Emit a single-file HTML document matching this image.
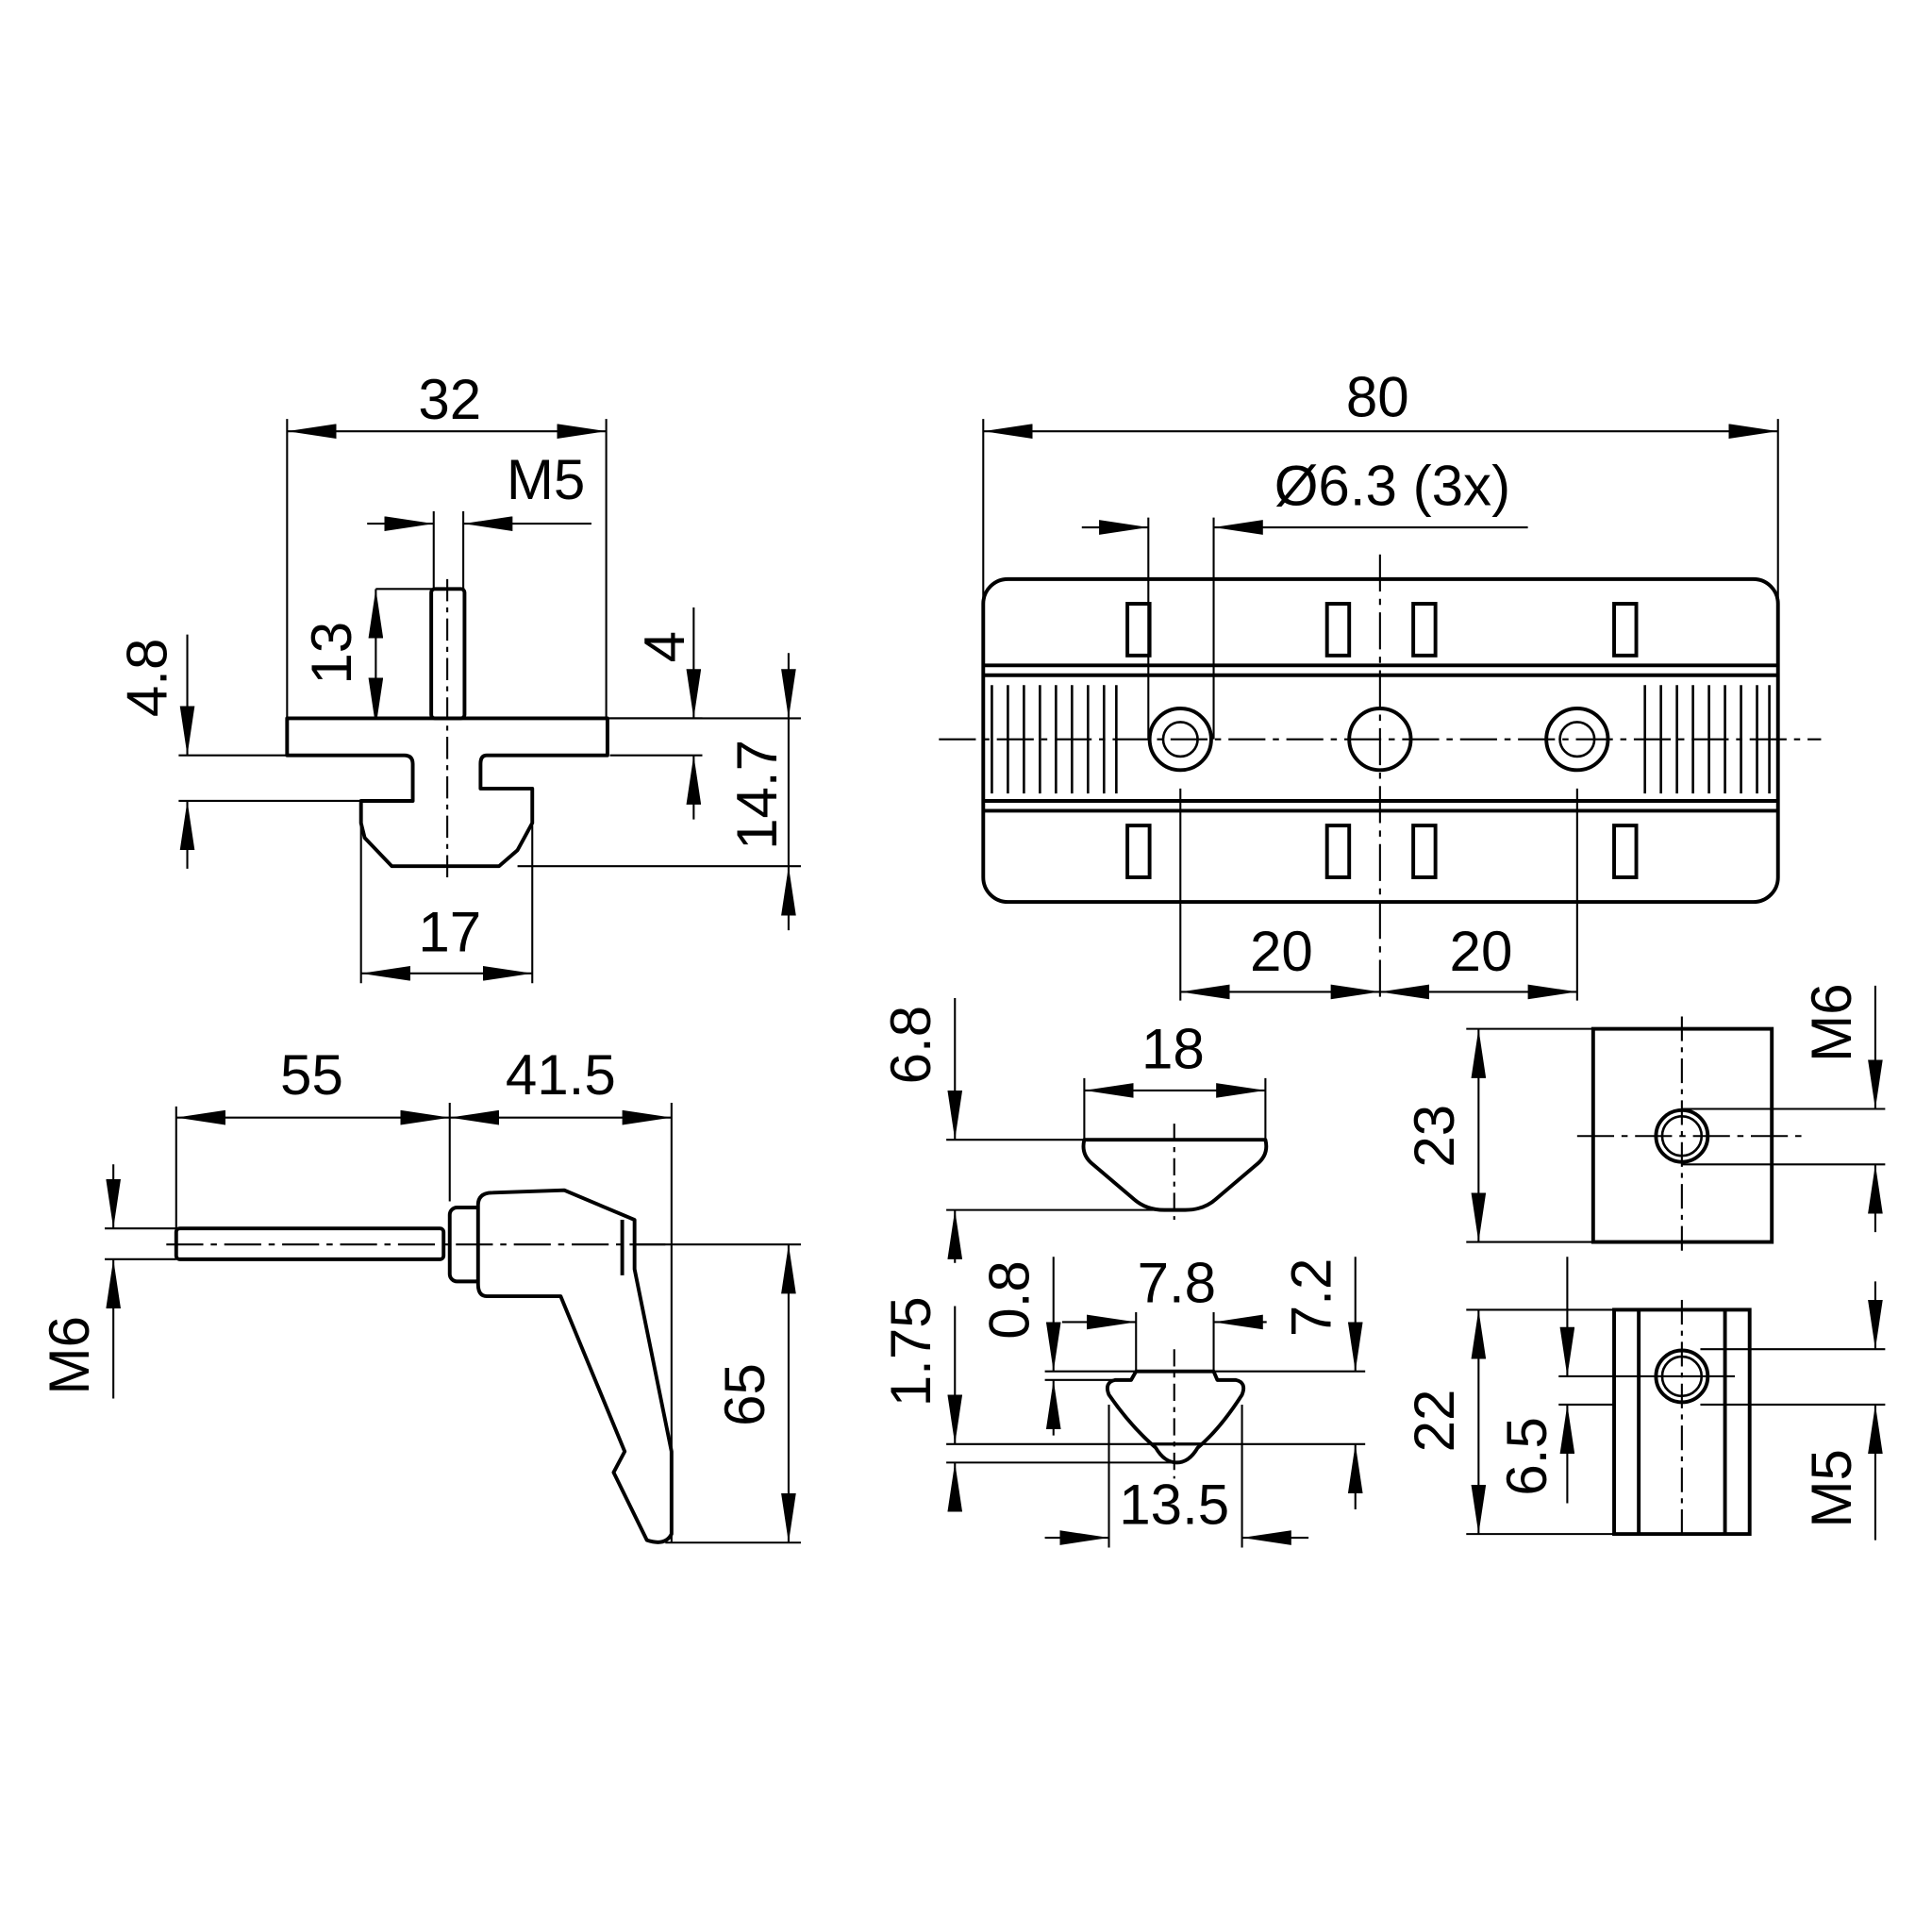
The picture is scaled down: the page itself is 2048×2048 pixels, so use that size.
<!DOCTYPE html>
<html><head><meta charset="utf-8"><style>html,body{margin:0;padding:0;background:#fff}svg{display:block}</style></head>
<body>
<svg width="2048" height="2048" viewBox="0 0 1568 1568" xmlns="http://www.w3.org/2000/svg" font-family="'Liberation Sans', sans-serif" font-size="46">
<defs>
<marker id="a" markerUnits="userSpaceOnUse" markerWidth="40" markerHeight="12" refX="40" refY="6" orient="auto-start-reverse" viewBox="0 0 40 12"><path d="M0,0 L40,6 L0,12 Z" fill="#000"/></marker>
</defs>
<rect width="1568" height="1568" fill="#fff"/>
<g stroke="#000" stroke-width="1.6" fill="none">
<!-- TOP LEFT -->
<line x1="233" y1="340" x2="233" y2="582"/><line x1="492" y1="340" x2="492" y2="582"/>
<line x1="233" y1="350" x2="492" y2="350" marker-start="url(#a)" marker-end="url(#a)"/>
<line x1="352" y1="415" x2="352" y2="478"/><line x1="376" y1="415" x2="376" y2="478"/>
<line x1="298" y1="425" x2="352" y2="425" marker-end="url(#a)"/>
<line x1="480" y1="425" x2="376" y2="425" marker-end="url(#a)"/>
<line x1="305" y1="478" x2="377" y2="478"/>
<line x1="305" y1="478" x2="305" y2="590" marker-start="url(#a)" marker-end="url(#a)"/>
<line x1="145" y1="613" x2="233" y2="613"/><line x1="145" y1="650" x2="293" y2="650"/>
<line x1="152" y1="515" x2="152" y2="613" marker-end="url(#a)"/>
<line x1="152" y1="705" x2="152" y2="650" marker-end="url(#a)"/>
<line x1="495" y1="583" x2="570" y2="583"/><line x1="495" y1="613" x2="570" y2="613"/>
<line x1="563" y1="493" x2="563" y2="583" marker-end="url(#a)"/>
<line x1="563" y1="665" x2="563" y2="613" marker-end="url(#a)"/>
<line x1="493" y1="583" x2="650" y2="583"/><line x1="420" y1="703" x2="650" y2="703"/>
<line x1="640" y1="530" x2="640" y2="583" marker-end="url(#a)"/>
<line x1="640" y1="755" x2="640" y2="703" marker-end="url(#a)"/>
<line x1="640" y1="583" x2="640" y2="703"/>
<line x1="293" y1="670" x2="293" y2="798"/><line x1="432" y1="670" x2="432" y2="798"/>
<line x1="293" y1="790" x2="432" y2="790" marker-start="url(#a)" marker-end="url(#a)"/>
</g>
<g stroke="#000" stroke-width="3" fill="#fff" stroke-linejoin="round">
<path d="M233 583 L493 583 L493 613 L395 613 Q390 613 390 620 L390 640 L432 640 L432 668 L420 690 L405 703 L318 703 L296 680 L293 668 L293 650 L335 650 L335 620 Q335 613 328 613 L233 613 Z" />
<rect x="350" y="478" width="27" height="105" rx="3"/>
</g>
<line x1="363" y1="470" x2="363" y2="715" stroke="#000" stroke-width="1.6" stroke-dasharray="18,5,4,5"/>
<!-- BOTTOM LEFT -->
<g stroke="#000" stroke-width="1.6" fill="none">
<line x1="143" y1="898" x2="143" y2="1020"/><line x1="365" y1="895" x2="365" y2="975"/><line x1="545" y1="895" x2="545" y2="1252"/>
<line x1="143" y1="907" x2="365" y2="907" marker-start="url(#a)" marker-end="url(#a)"/>
<line x1="365" y1="907" x2="545" y2="907" marker-start="url(#a)" marker-end="url(#a)"/>
<line x1="85" y1="997" x2="143" y2="997"/><line x1="85" y1="1022" x2="143" y2="1022"/>
<line x1="92" y1="945" x2="92" y2="997" marker-end="url(#a)"/>
<line x1="92" y1="1135" x2="92" y2="1022" marker-end="url(#a)"/>
<line x1="515" y1="1010" x2="650" y2="1010"/><line x1="540" y1="1252" x2="650" y2="1252"/>
<line x1="640" y1="1010" x2="640" y2="1252" marker-start="url(#a)" marker-end="url(#a)"/>
</g>
<g stroke="#000" stroke-width="3" fill="#fff" stroke-linejoin="round">
<rect x="143" y="997" width="217" height="25" rx="3"/>
<rect x="365" y="980" width="27" height="60" rx="6"/>
<path d="M388 978 Q388 968 400 968 L458 966 L515 990 L515 1030 L545 1178 L545 1245 Q540 1255 525 1250 L498 1195 L507 1178 L455 1052 L395 1052 Q388 1052 388 1042 Z"/>
<line x1="505" y1="990" x2="505" y2="1035"/>
</g>
<line x1="135" y1="1010" x2="540" y2="1010" stroke="#000" stroke-width="1.6" stroke-dasharray="30,6,5,6"/>
<!-- TOP RIGHT -->
<g stroke="#000" stroke-width="1.6" fill="none">
<line x1="798" y1="340" x2="798" y2="590"/><line x1="1443" y1="340" x2="1443" y2="590"/>
<line x1="798" y1="350" x2="1443" y2="350" marker-start="url(#a)" marker-end="url(#a)"/>
<line x1="932" y1="420" x2="932" y2="600"/><line x1="985" y1="420" x2="985" y2="600"/>
<line x1="878" y1="428" x2="932" y2="428" marker-end="url(#a)"/>
<line x1="1240" y1="428" x2="985" y2="428" marker-end="url(#a)"/>
<line x1="958" y1="640" x2="958" y2="812"/><line x1="1280" y1="640" x2="1280" y2="812"/>
<line x1="958" y1="805" x2="1120" y2="805" marker-start="url(#a)" marker-end="url(#a)"/>
<line x1="1120" y1="805" x2="1280" y2="805" marker-start="url(#a)" marker-end="url(#a)"/>
<line x1="762" y1="600" x2="1478" y2="600" stroke-dasharray="30,6,5,6"/>
<line x1="1120" y1="450" x2="1120" y2="815" stroke-dasharray="30,6,5,6"/>
</g>
<g stroke="#000" stroke-width="3" fill="none">
<rect x="798" y="470" width="645" height="262" rx="20"/>
<line x1="798" y1="540" x2="1443" y2="540"/><line x1="798" y1="548" x2="1443" y2="548"/>
<line x1="798" y1="650" x2="1443" y2="650"/><line x1="798" y1="658" x2="1443" y2="658"/>
<rect x="915" y="490" width="18" height="42"/><rect x="1077" y="490" width="18" height="42"/><rect x="1147" y="490" width="18" height="42"/><rect x="1310" y="490" width="18" height="42"/>
<rect x="915" y="670" width="18" height="42"/><rect x="1077" y="670" width="18" height="42"/><rect x="1147" y="670" width="18" height="42"/><rect x="1310" y="670" width="18" height="42"/>
<circle cx="958" cy="600" r="25"/><circle cx="958" cy="600" r="14" stroke-width="2"/>
<circle cx="1120" cy="600" r="25"/>
<circle cx="1280" cy="600" r="25"/><circle cx="1280" cy="600" r="14" stroke-width="2"/>
</g>
<g stroke="#000" stroke-width="2">
<path d="M805 556V644M818 556V644M831 556V644M844 556V644M857 556V644M870 556V644M883 556V644M896 556V644M906 556V644"/>
<path d="M1335 556V644M1348 556V644M1361 556V644M1374 556V644M1387 556V644M1400 556V644M1413 556V644M1426 556V644M1436 556V644"/>
</g>
<!-- MIDDLE 18 -->
<g stroke="#000" stroke-width="1.6" fill="none">
<line x1="880" y1="875" x2="880" y2="925"/><line x1="1027" y1="875" x2="1027" y2="925"/>
<line x1="880" y1="885" x2="1027" y2="885" marker-start="url(#a)" marker-end="url(#a)"/>
<line x1="768" y1="925" x2="880" y2="925"/><line x1="768" y1="982" x2="950" y2="982"/>
<line x1="775" y1="810" x2="775" y2="925" marker-end="url(#a)"/>
<line x1="775" y1="1025" x2="775" y2="982" marker-end="url(#a)"/>
<line x1="953" y1="912" x2="953" y2="990" stroke-dasharray="14,5,4,5"/>
</g>
<path d="M880 925 L1027 925 Q1030 937 1020 945 L987 973 Q977 982 962 982 L945 982 Q930 982 920 973 L887 945 Q877 937 880 925 Z" stroke="#000" stroke-width="3" fill="none" stroke-linejoin="round"/>
<!-- MIDDLE 7.8 -->
<g stroke="#000" stroke-width="1.6" fill="none">
<line x1="922" y1="1065" x2="922" y2="1113"/><line x1="985" y1="1065" x2="985" y2="1113"/>
<line x1="862" y1="1073" x2="922" y2="1073" marker-end="url(#a)"/>
<line x1="1028" y1="1073" x2="985" y2="1073" marker-end="url(#a)"/>
<line x1="848" y1="1113" x2="922" y2="1113"/><line x1="848" y1="1120" x2="905" y2="1120"/>
<line x1="985" y1="1113" x2="1108" y2="1113"/>
<line x1="855" y1="1020" x2="855" y2="1113" marker-end="url(#a)"/>
<line x1="855" y1="1165" x2="855" y2="1120" marker-end="url(#a)"/>
<line x1="768" y1="1172" x2="1108" y2="1172"/><line x1="768" y1="1187" x2="955" y2="1187"/>
<line x1="1100" y1="1020" x2="1100" y2="1113" marker-end="url(#a)"/>
<line x1="1100" y1="1225" x2="1100" y2="1172" marker-end="url(#a)"/>
<line x1="775" y1="1060" x2="775" y2="1172" marker-end="url(#a)"/>
<line x1="775" y1="1225" x2="775" y2="1187" marker-end="url(#a)"/>
<line x1="900" y1="1140" x2="900" y2="1256"/><line x1="1008" y1="1140" x2="1008" y2="1256"/>
<line x1="848" y1="1248" x2="900" y2="1248" marker-end="url(#a)"/>
<line x1="1062" y1="1248" x2="1008" y2="1248" marker-end="url(#a)"/>
<line x1="953" y1="1095" x2="953" y2="1200" stroke-dasharray="14,5,4,5"/>
</g>
<path d="M922 1113 L985 1113 L988 1120 L1003 1120 Q1012 1122 1008 1132 Q990 1160 972 1175 Q965 1187 955 1187 Q945 1187 938 1175 Q918 1158 900 1132 Q896 1122 905 1120 L918 1120 Z" stroke="#000" stroke-width="3" fill="none" stroke-linejoin="round"/>
<line x1="935" y1="1172" x2="975" y2="1172" stroke="#000" stroke-width="2.5"/>
<!-- RIGHT -->
<g stroke="#000" stroke-width="1.6" fill="none">
<line x1="1190" y1="835" x2="1293" y2="835"/><line x1="1190" y1="1008" x2="1293" y2="1008"/>
<line x1="1200" y1="835" x2="1200" y2="1008" marker-start="url(#a)" marker-end="url(#a)"/>
<line x1="1365" y1="900" x2="1530" y2="900"/><line x1="1365" y1="945" x2="1530" y2="945"/>
<line x1="1522" y1="800" x2="1522" y2="900" marker-end="url(#a)"/>
<line x1="1522" y1="1000" x2="1522" y2="945" marker-end="url(#a)"/>
<line x1="1365" y1="825" x2="1365" y2="1020" stroke-dasharray="20,5,4,5"/>
<line x1="1280" y1="922" x2="1462" y2="922" stroke-dasharray="30,6,5,6"/>
<line x1="1190" y1="1063" x2="1310" y2="1063"/><line x1="1190" y1="1245" x2="1310" y2="1245"/>
<line x1="1200" y1="1063" x2="1200" y2="1245" marker-start="url(#a)" marker-end="url(#a)"/>
<line x1="1265" y1="1117" x2="1408" y2="1117"/>
<line x1="1272" y1="1020" x2="1272" y2="1117" marker-end="url(#a)"/>
<line x1="1272" y1="1220" x2="1272" y2="1140" marker-end="url(#a)"/>
<line x1="1265" y1="1140" x2="1310" y2="1140"/>
<line x1="1380" y1="1095" x2="1530" y2="1095"/><line x1="1380" y1="1140" x2="1530" y2="1140"/>
<line x1="1522" y1="1040" x2="1522" y2="1095" marker-end="url(#a)"/>
<line x1="1522" y1="1250" x2="1522" y2="1140" marker-end="url(#a)"/>
<line x1="1365" y1="1055" x2="1365" y2="1245" stroke-dasharray="20,5,4,5"/>
</g>
<g stroke="#000" stroke-width="3" fill="none">
<rect x="1293" y="835" width="145" height="173"/>
<circle cx="1365" cy="922" r="21"/><circle cx="1365" cy="922" r="16" stroke-width="2"/>
<rect x="1310" y="1063" width="110" height="182"/>
<line x1="1330" y1="1063" x2="1330" y2="1245"/><line x1="1400" y1="1063" x2="1400" y2="1245"/>
<circle cx="1365" cy="1117" r="21"/><circle cx="1365" cy="1117" r="16" stroke-width="2"/>
</g>
<!-- TEXT -->
<g fill="#000" text-anchor="middle">
<text x="365" y="340">32</text>
<text x="443" y="405">M5</text>
<text x="365" y="772">17</text>
<text x="253" y="888">55</text>
<text x="455" y="888">41.5</text>
<text x="1118" y="338">80</text>
<text x="1130" y="410">Ø6.3 (3x)</text>
<text x="1040" y="788">20</text>
<text x="1202" y="788">20</text>
<text x="952" y="867">18</text>
<text x="955" y="1057">7.8</text>
<text x="953" y="1237">13.5</text>
<text transform="translate(135,550) rotate(-90)">4.8</text>
<text transform="translate(285,530) rotate(-90)">13</text>
<text transform="translate(555,525) rotate(-90)">4</text>
<text transform="translate(630,645) rotate(-90)">14.7</text>
<text transform="translate(72,1100) rotate(-90)">M6</text>
<text transform="translate(620,1132) rotate(-90)">65</text>
<text transform="translate(755,848) rotate(-90)">6.8</text>
<text transform="translate(755,1097) rotate(-90)">1.75</text>
<text transform="translate(835,1055) rotate(-90)">0.8</text>
<text transform="translate(1080,1053) rotate(-90)">7.2</text>
<text transform="translate(1180,922) rotate(-90)">23</text>
<text transform="translate(1180,1153) rotate(-90)">22</text>
<text transform="translate(1255,1182) rotate(-90)">6.5</text>
<text transform="translate(1502,830) rotate(-90)">M6</text>
<text transform="translate(1502,1208) rotate(-90)">M5</text>
</g>
</svg>
</body></html>
